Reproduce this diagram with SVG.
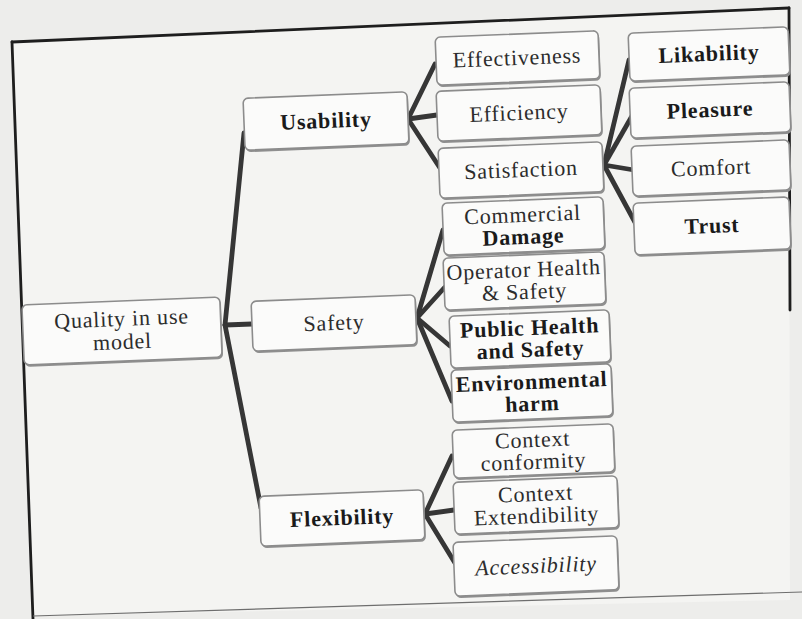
<svg xmlns="http://www.w3.org/2000/svg" width="802" height="619" viewBox="0 0 802 619">
<defs>
<style>
.bg{fill:#ededeb}
.frame{fill:none;stroke:#1e1e1e;stroke-width:2.8;stroke-linecap:round}
.thin{fill:none;stroke:#6e6e6e;stroke-width:1.2}
.box{fill:#fbfbfa;stroke:#8c8c8c;stroke-width:1.6}
.sh{fill:#8f8f8f}
.t{font-family:"Liberation Serif","Times New Roman",serif;font-size:22px;fill:#2c2c2c;text-anchor:middle;letter-spacing:0.8px}
.b{font-weight:bold;fill:#1a1a1a}
.i{font-style:italic}
.conn line{stroke:#363636;stroke-width:4.8;stroke-linecap:round}
</style>
</defs>
<rect class="bg" x="0" y="0" width="802" height="619"/>
<polygon points="12,42 789,8 790,600 33,616" fill="#f4f4f2"/>
<g id="frame">
<line class="frame" x1="12" y1="42" x2="789" y2="8"/>
<line class="frame" x1="12" y1="42" x2="33" y2="619"/>
<line class="frame" x1="789" y1="8" x2="790" y2="310"/>
<line class="thin" x1="33" y1="616" x2="802" y2="592"/>
</g>
<g id="connectors" class="conn">
<line x1="225" y1="325" x2="244" y2="133"/>
<line x1="225" y1="325" x2="252" y2="324"/>
<line x1="225" y1="325" x2="261" y2="508"/>
<line x1="408" y1="119" x2="435" y2="64"/>
<line x1="408" y1="119" x2="437" y2="115"/>
<line x1="408" y1="119" x2="440" y2="168"/>
<line x1="604" y1="165" x2="629" y2="60"/>
<line x1="604" y1="165" x2="632" y2="116"/>
<line x1="604" y1="165" x2="634" y2="170"/>
<line x1="604" y1="165" x2="637" y2="226"/>
<line x1="417" y1="318" x2="443" y2="230"/>
<line x1="417" y1="318" x2="445" y2="287"/>
<line x1="417" y1="318" x2="450" y2="346"/>
<line x1="417" y1="318" x2="452" y2="401"/>
<line x1="425" y1="514" x2="452" y2="456"/>
<line x1="425" y1="514" x2="454" y2="510"/>
<line x1="425" y1="514" x2="455" y2="563"/>
</g>
<g id="quality" transform="translate(122,331) rotate(-2.3)">
<rect class="sh" x="-98" y="-28" width="198" height="60" rx="5"/>
<rect class="box" x="-99" y="-30" width="198" height="60" rx="5"/>
<text class="t" x="0" y="-5">Quality in use</text>
<text class="t" x="0" y="18">model</text>
</g>
<g id="usability" transform="translate(326,121) rotate(-2.3)">
<rect class="sh" x="-81" y="-24" width="164" height="52" rx="5"/>
<rect class="box" x="-82" y="-26" width="164" height="52" rx="5"/>
<text class="t b" x="0" y="7">Usability</text>
</g>
<g id="safety" transform="translate(334,323) rotate(-2.3)">
<rect class="sh" x="-81" y="-23" width="164" height="50" rx="5"/>
<rect class="box" x="-82" y="-25" width="164" height="50" rx="5"/>
<text class="t" x="0" y="7">Safety</text>
</g>
<g id="flexibility" transform="translate(342,518) rotate(-2.3)">
<rect class="sh" x="-81" y="-23" width="164" height="50" rx="5"/>
<rect class="box" x="-82" y="-25" width="164" height="50" rx="5"/>
<text class="t b" x="0" y="7">Flexibility</text>
</g>
<g id="effectiveness" transform="translate(517,58) rotate(-2.3)">
<rect class="sh" x="-80" y="-22" width="163" height="48" rx="5"/>
<rect class="box" x="-81" y="-24" width="163" height="48" rx="5"/>
<text class="t" x="0" y="7">Effectiveness</text>
</g>
<g id="efficiency" transform="translate(519,113) rotate(-2.3)">
<rect class="sh" x="-81" y="-23" width="164" height="50" rx="5"/>
<rect class="box" x="-82" y="-25" width="164" height="50" rx="5"/>
<text class="t" x="0" y="7">Efficiency</text>
</g>
<g id="satisfaction" transform="translate(521,170) rotate(-2.3)">
<rect class="sh" x="-81" y="-23" width="164" height="50" rx="5"/>
<rect class="box" x="-82" y="-25" width="164" height="50" rx="5"/>
<text class="t" x="0" y="7">Satisfaction</text>
</g>
<g id="commercial" transform="translate(523,226) rotate(-2.3)">
<rect class="sh" x="-79" y="-24" width="161" height="52" rx="5"/>
<rect class="box" x="-80" y="-26" width="161" height="52" rx="5"/>
<text class="t" x="0" y="-4">Commercial</text>
<text class="t b" x="0" y="18">Damage</text>
</g>
<g id="operator" transform="translate(524,281) rotate(-2.3)">
<rect class="sh" x="-79" y="-24" width="161" height="52" rx="5"/>
<rect class="box" x="-80" y="-26" width="161" height="52" rx="5"/>
<text class="t" x="0" y="-4">Operator Health</text>
<text class="t" x="0" y="18">&amp; Safety</text>
</g>
<g id="public" transform="translate(530,339) rotate(-2.3)">
<rect class="sh" x="-79" y="-24" width="160" height="52" rx="5"/>
<rect class="box" x="-80" y="-26" width="160" height="52" rx="5"/>
<text class="t b" x="0" y="-4">Public Health</text>
<text class="t b" x="0" y="18">and Safety</text>
</g>
<g id="environmental" transform="translate(532,393) rotate(-2.3)">
<rect class="sh" x="-79" y="-24" width="160" height="52" rx="5"/>
<rect class="box" x="-80" y="-26" width="160" height="52" rx="5"/>
<text class="t b" x="0" y="-4" letter-spacing="0.2">Environmental</text>
<text class="t b" x="0" y="18">harm</text>
</g>
<g id="conformity" transform="translate(533,451) rotate(-2.3)">
<rect class="sh" x="-79" y="-22" width="161" height="48" rx="5"/>
<rect class="box" x="-80" y="-24" width="161" height="48" rx="5"/>
<text class="t" x="0" y="-4">Context</text>
<text class="t" x="0" y="18">conformity</text>
</g>
<g id="extendibility" transform="translate(536,505) rotate(-2.3)">
<rect class="sh" x="-81" y="-24" width="164" height="52" rx="5"/>
<rect class="box" x="-82" y="-26" width="164" height="52" rx="5"/>
<text class="t" x="0" y="-4">Context</text>
<text class="t" x="0" y="18">Extendibility</text>
</g>
<g id="accessibility" transform="translate(536,566) rotate(-2.3)">
<rect class="sh" x="-81" y="-25" width="164" height="54" rx="5"/>
<rect class="box" x="-82" y="-27" width="164" height="54" rx="5"/>
<text class="t i" x="0" y="7">Accessibility</text>
</g>
<g id="likability" transform="translate(709,54) rotate(-2.3)">
<rect class="sh" x="-79" y="-22" width="160" height="48" rx="5"/>
<rect class="box" x="-80" y="-24" width="160" height="48" rx="5"/>
<text class="t b" x="0" y="7" letter-spacing="0">Likability</text>
</g>
<g id="pleasure" transform="translate(710,110) rotate(-2.3)">
<rect class="sh" x="-79" y="-23" width="160" height="50" rx="5"/>
<rect class="box" x="-80" y="-25" width="160" height="50" rx="5"/>
<text class="t b" x="0" y="7">Pleasure</text>
</g>
<g id="comfort" transform="translate(711,168) rotate(-2.3)">
<rect class="sh" x="-78" y="-23" width="158" height="50" rx="5"/>
<rect class="box" x="-79" y="-25" width="158" height="50" rx="5"/>
<text class="t" x="0" y="7">Comfort</text>
</g>
<g id="trust" transform="translate(712,226) rotate(-2.3)">
<rect class="sh" x="-77" y="-24" width="156" height="52" rx="5"/>
<rect class="box" x="-78" y="-26" width="156" height="52" rx="5"/>
<text class="t b" x="0" y="7">Trust</text>
</g>
</svg>
